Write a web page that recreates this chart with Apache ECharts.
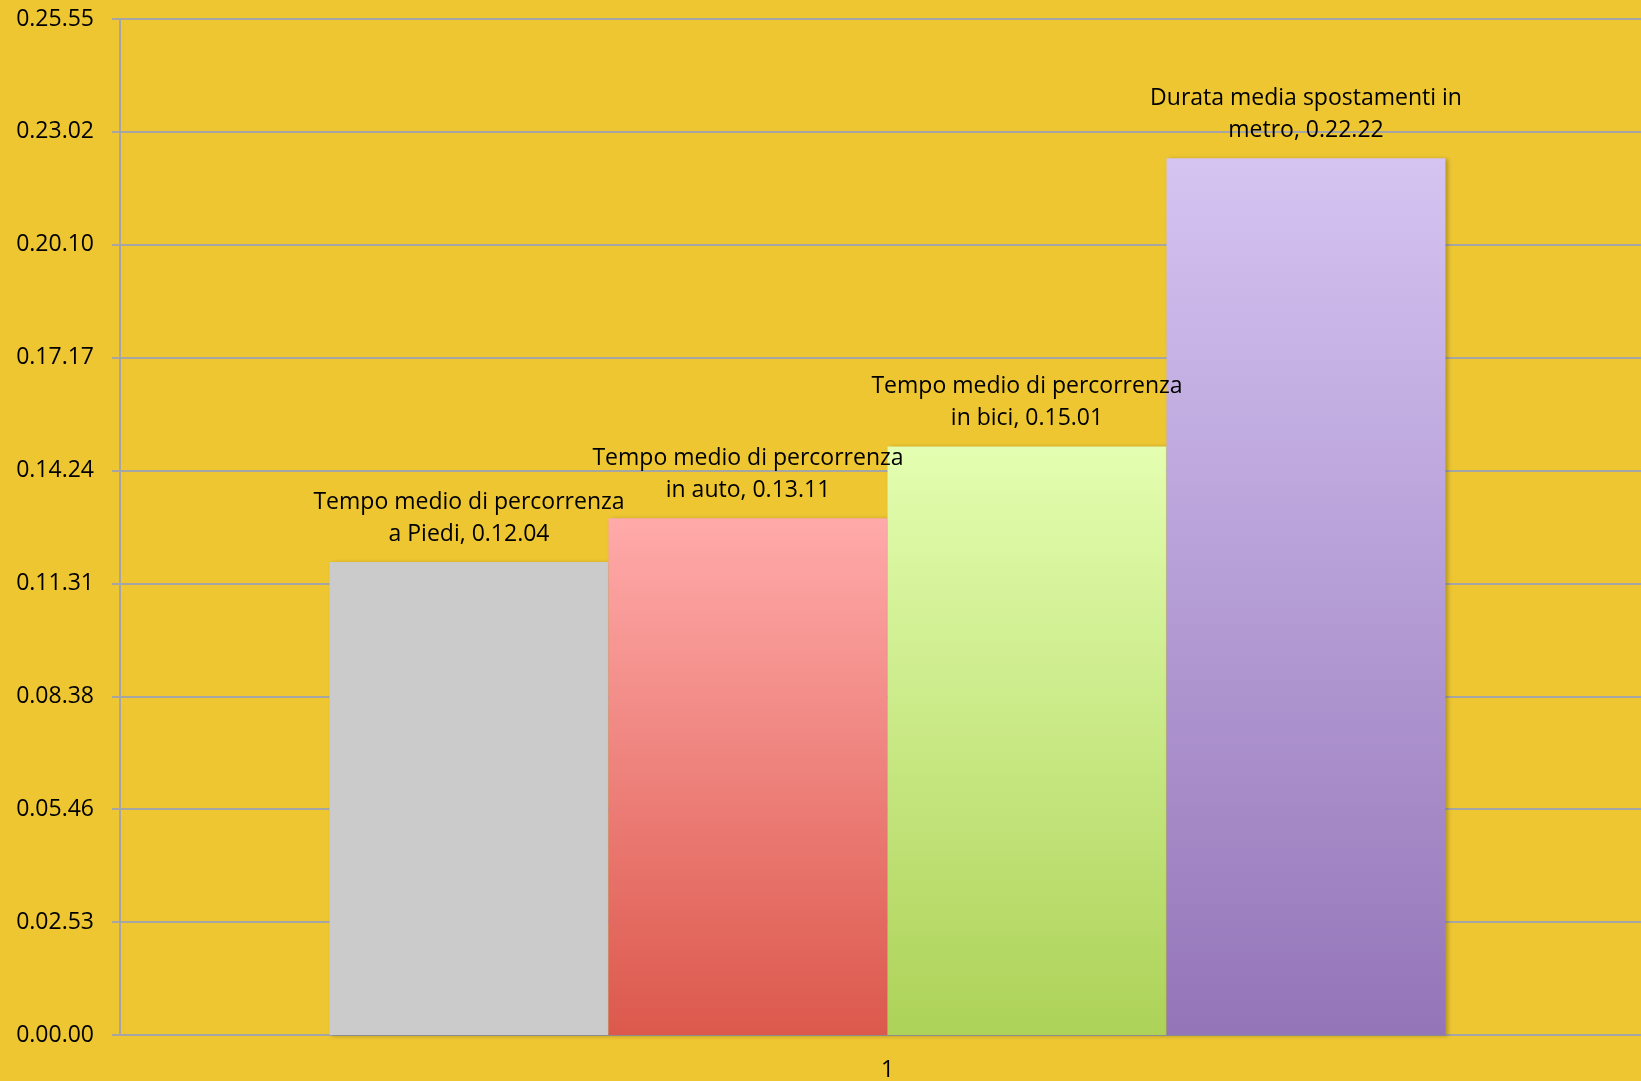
<!DOCTYPE html>
<html>
<head>
<meta charset="utf-8">
<title>Tempi medi di percorrenza</title>
<script src="https://cdn.jsdelivr.net/npm/echarts@6/dist/echarts.min.js"></script>
<style>
html, body { margin: 0; padding: 0; background: #EDC632; }
#main { width: 1641px; height: 1081px; }
</style>
</head>
<body>
<div id="main"></div>
<script>
// dati (durate in h.mm.ss)
var categories = ['1'];
var seriesNames = [
    'Tempo medio di percorrenza\na Piedi',
    'Tempo medio di percorrenza\nin auto',
    'Tempo medio di percorrenza\nin bici',
    'Durata media spostamenti in\nmetro'
];
var durations = ['0.12.04', '0.13.11', '0.15.01', '0.22.22'];
var barColors = [
    ['#CBCBCB', '#CBCBCB'],
    ['#FFAAAA', '#DC584C'],
    ['#E3FEB0', '#ADD258'],
    ['#D5C4F2', '#9475B8']
];
var yMax = 1555.2;      // 0.25.55
var yStep = 172.8;      // 0.02.53

function toSeconds(s) {
    var p = s.split('.');
    return (+p[0]) * 3600 + (+p[1]) * 60 + (+p[2]);
}
function toLabel(sec) {
    sec = Math.round(sec);
    var h = Math.floor(sec / 3600);
    var m = Math.floor((sec % 3600) / 60);
    var s = sec % 60;
    return h + '.' + (m < 10 ? '0' : '') + m + '.' + (s < 10 ? '0' : '') + s;
}

var chartDom = document.getElementById('main');
var myChart = echarts.init(chartDom);
var option;

var series = seriesNames.map(function (name, i) {
    return {
        name: name,
        type: 'bar',
        barWidth: 279,
        barGap: 0,
        data: [toSeconds(durations[i])],
        itemStyle: {
            color: new echarts.graphic.LinearGradient(0, 0, 0, 1, [
                { offset: 0, color: barColors[i][0] },
                { offset: 1, color: barColors[i][1] }
            ]),
            shadowColor: 'rgba(0,0,0,0.25)',
            shadowBlur: 4,
            shadowOffsetX: 2,
            shadowOffsetY: 1
        },
        label: {
            show: true,
            position: 'top',
            distance: 12,
            color: '#000',
            fontFamily: 'Open Sans',
            fontSize: 23,
            lineHeight: 32,
            align: 'center',
            formatter: function (p) {
                return p.seriesName + ', ' + durations[p.seriesIndex];
            }
        }
    };
});

option = {
    backgroundColor: '#EDC632',
    animation: false,
    grid: {
        left: 120,
        width: 1535,
        top: 19,
        bottom: 46,
        containLabel: false,
        outerBoundsMode: 'none'
    },
    xAxis: {
        type: 'category',
        data: categories,
        axisLine: { show: true, lineStyle: { color: '#A5A5A5', width: 2 } },
        axisTick: { show: false },
        axisLabel: {
            color: '#000',
            fontFamily: 'Open Sans',
            fontSize: 23,
            margin: 24
        }
    },
    yAxis: {
        type: 'value',
        min: 0,
        max: yMax,
        interval: yStep,
        axisLine: { show: true, lineStyle: { color: '#A5A5A5', width: 2 } },
        axisTick: { show: true, length: 8, lineStyle: { color: '#A5A5A5', width: 2 } },
        splitLine: { show: true, lineStyle: { color: '#A5A5A5', width: 2 } },
        axisLabel: {
            color: '#000',
            fontFamily: 'Open Sans',
            fontSize: 23,
            margin: 26,
            formatter: function (v) { return toLabel(v); }
        }
    },
    series: series
};

option && myChart.setOption(option);
</script>
</body>
</html>
